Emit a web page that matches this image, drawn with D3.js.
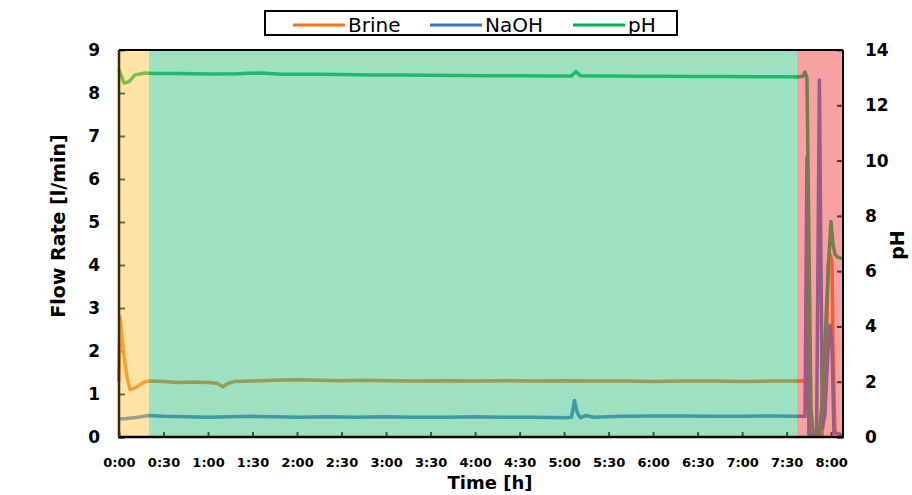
<!DOCTYPE html>
<html>
<head>
<meta charset="utf-8">
<script src="https://cdn.jsdelivr.net/npm/d3@7"></script>
<style>
  html, body { margin: 0; padding: 0; background: #ffffff; }
  svg { display: block; font-family: "DejaVu Sans", Verdana, sans-serif; }
</style>
</head>
<body>
<div id="chart"></div>
<script>
// ---------------- data (time in minutes) ----------------
const brineTime = [0, 0.7, 3.4, 5.4, 7.4, 10.1, 13.5, 16.9, 20, 30, 40, 50, 60, 66, 70, 73, 78, 90, 105, 120, 135, 150, 165, 180, 200, 220, 240, 260, 280, 300, 320, 340, 360, 380, 400, 420, 440, 455, 462.4, 464.4, 465.7, 473.9, 476.5, 477.9, 479.2, 480.6, 481.2, 482.6, 487.3];
const brineFlow = [1.3, 2.8, 1.86, 1.4, 1.1, 1.13, 1.2, 1.28, 1.3, 1.29, 1.27, 1.28, 1.27, 1.25, 1.17, 1.24, 1.29, 1.3, 1.32, 1.33, 1.32, 1.31, 1.32, 1.31, 1.3, 1.31, 1.3, 1.31, 1.3, 1.31, 1.3, 1.3, 1.29, 1.3, 1.3, 1.29, 1.3, 1.3, 1.31, 1.3, 0.05, 0.05, 1.5, 4.0, 4.25, 4.1, 2.2, 0.1, 0.05];

const naohTime = [0, 5, 10, 15, 20, 30, 45, 60, 75, 90, 105, 120, 140, 160, 180, 200, 220, 240, 260, 280, 300, 305, 307, 309, 311, 315, 320, 340, 360, 380, 400, 420, 440, 455, 462.4, 463.7, 465.0, 470.2, 472.1, 474.1, 475.8, 477.9, 479.2, 480.6, 481.9, 487.3];
const naohFlow = [0.42, 0.43, 0.45, 0.47, 0.5, 0.48, 0.47, 0.46, 0.47, 0.48, 0.47, 0.46, 0.47, 0.46, 0.47, 0.46, 0.46, 0.47, 0.46, 0.46, 0.45, 0.46, 0.85, 0.55, 0.45, 0.5, 0.46, 0.48, 0.49, 0.49, 0.48, 0.48, 0.49, 0.48, 0.48, 6.5, 0.05, 0.1, 8.3, 0.2, 0.5, 2.0, 2.6, 2.1, 0.1, 0.05];

const phTime = [0, 3.4, 6.7, 10.8, 17.5, 24, 40, 60, 80, 95, 110, 130, 150, 170, 190, 210, 230, 250, 270, 290, 305, 308, 311, 330, 350, 370, 390, 410, 430, 450, 457, 461, 462.4, 463.7, 466.4, 467.8, 471.8, 473.9, 476.5, 478.5, 479.9, 481.2, 482.6, 484.6, 487.3];
const phValue = [13.28, 12.8, 12.85, 13.1, 13.17, 13.15, 13.15, 13.13, 13.14, 13.17, 13.12, 13.12, 13.11, 13.1, 13.1, 13.09, 13.08, 13.07, 13.07, 13.06, 13.06, 13.22, 13.07, 13.06, 13.05, 13.05, 13.04, 13.04, 13.03, 13.03, 13.02, 13.05, 13.2, 13.0, 1.0, 0.2, 0.1, 1.2, 4.2, 6.5, 7.8, 7.0, 6.6, 6.5, 6.45];

// phases (start, end in minutes)
const phaseStart = [0, 20.2, 457];
const phaseEnd = [20.2, 457, 488];
const phaseColor = ["#fbc74b", "#3bc185", "#ef4545"];

const seriesNames = ["Brine", "NaOH", "pH"];
const seriesColors = ["#f47820", "#4472c4", "#00b050"];

const xTicks = [0, 30, 60, 90, 120, 150, 180, 210, 240, 270, 300, 330, 360, 390, 420, 450, 480];
const leftTicks = [0, 1, 2, 3, 4, 5, 6, 7, 8, 9];
const rightTicks = [0, 2, 4, 6, 8, 10, 12, 14];

// ---------------- layout ----------------
const W = 912, H = 495;
const L = 119, R = 843, T = 50, B = 437;

const svg = d3.select("#chart").append("svg").attr("width", W).attr("height", H);

const x = d3.scaleLinear().domain([0, 488]).range([L, R]);
const yL = d3.scaleLinear().domain([0, 9]).range([B, T]);
const yR = d3.scaleLinear().domain([0, 14]).range([B, T]);

const fmt = m => Math.floor(m / 60) + ":" + String(m % 60).padStart(2, "0");

// axes (ticks inside)
const gx = svg.append("g").attr("transform", `translate(0,${B})`)
  .call(d3.axisBottom(x).tickValues(xTicks).tickFormat(fmt).tickSizeInner(-5).tickSizeOuter(0).tickPadding(21));
const gl = svg.append("g").attr("transform", `translate(${L},0)`)
  .call(d3.axisLeft(yL).tickValues(leftTicks).tickFormat(d3.format("d")).tickSizeInner(-6).tickSizeOuter(0).tickPadding(19));
const gr = svg.append("g").attr("transform", `translate(${R},0)`)
  .call(d3.axisRight(yR).tickValues(rightTicks).tickFormat(d3.format("d")).tickSizeInner(-6).tickSizeOuter(0).tickPadding(22));

[gx, gl, gr].forEach(g => {
  g.select(".domain").remove();
  g.selectAll(".tick line").attr("stroke", "#000").attr("stroke-width", 2);
  g.selectAll("text").attr("fill", "#000").style("font-family", "DejaVu Sans, sans-serif").style("font-weight", "bold");
});
gx.selectAll("text").style("font-size", "13px");
gl.selectAll("text").style("font-size", "17px");
gr.selectAll("text").style("font-size", "17px");

// lines
const mkData = (t, v) => t.map((d, i) => [d, v[i]]);
const lineL = d3.line().x(d => x(d[0])).y(d => yL(d[1]));
const lineR = d3.line().x(d => x(d[0])).y(d => yR(d[1]));

const plot = svg.append("g");
plot.append("path").datum(mkData(brineTime, brineFlow)).attr("d", lineL)
  .attr("fill", "none").attr("stroke", seriesColors[0]).attr("stroke-width", 3.5).attr("stroke-linejoin", "round");
plot.append("path").datum(mkData(naohTime, naohFlow)).attr("d", lineL)
  .attr("fill", "none").attr("stroke", seriesColors[1]).attr("stroke-width", 3.5).attr("stroke-linejoin", "round");
plot.append("path").datum(mkData(phTime, phValue)).attr("d", lineR)
  .attr("fill", "none").attr("stroke", seriesColors[2]).attr("stroke-width", 3.5).attr("stroke-linejoin", "round");

// phase overlays (semi-transparent, on top of the lines)
svg.append("g").selectAll("rect").data(phaseStart).join("rect")
  .attr("x", (d) => x(d))
  .attr("y", T)
  .attr("width", (d, i) => x(phaseEnd[i]) - x(d))
  .attr("height", B - T)
  .attr("fill", (d, i) => phaseColor[i])
  .attr("fill-opacity", 0.5);

// frame
svg.append("line").attr("x1", L).attr("x2", R).attr("y1", T).attr("y2", T).attr("stroke", "#000").attr("stroke-width", 2);
svg.append("line").attr("x1", L - 1).attr("x2", R + 1).attr("y1", B).attr("y2", B).attr("stroke", "#000").attr("stroke-width", 2.5);
svg.append("line").attr("x1", L).attr("x2", L).attr("y1", T).attr("y2", B).attr("stroke", "#3a2a08").attr("stroke-width", 2.5);
svg.append("line").attr("x1", R).attr("x2", R).attr("y1", T).attr("y2", B).attr("stroke", "#000").attr("stroke-width", 2);

// axis titles
svg.append("text").attr("transform", `translate(65,226) rotate(-90)`)
  .attr("text-anchor", "middle").style("font-size", "19px").style("font-weight", "bold").text("Flow Rate [l/min]");
svg.append("text").attr("transform", `translate(904,245) rotate(-90)`)
  .attr("text-anchor", "middle").style("font-size", "19px").style("font-weight", "bold").text("pH");
svg.append("text").attr("x", 490).attr("y", 489)
  .attr("text-anchor", "middle").style("font-size", "18px").style("font-weight", "bold").text("Time [h]");

// legend
const lg = svg.append("g");
lg.append("rect").attr("x", 265).attr("y", 11).attr("width", 412).attr("height", 24)
  .attr("fill", "#fff").attr("stroke", "#000").attr("stroke-width", 2);
const legX = [293, 430, 573];
seriesNames.forEach((n, i) => {
  lg.append("line").attr("x1", legX[i]).attr("x2", legX[i] + 52).attr("y1", 25).attr("y2", 25)
    .attr("stroke", seriesColors[i]).attr("stroke-width", 3);
  lg.append("text").attr("x", legX[i] + 55).attr("y", 32).style("font-size", "20px").text(n);
});
</script>
</body>
</html>
